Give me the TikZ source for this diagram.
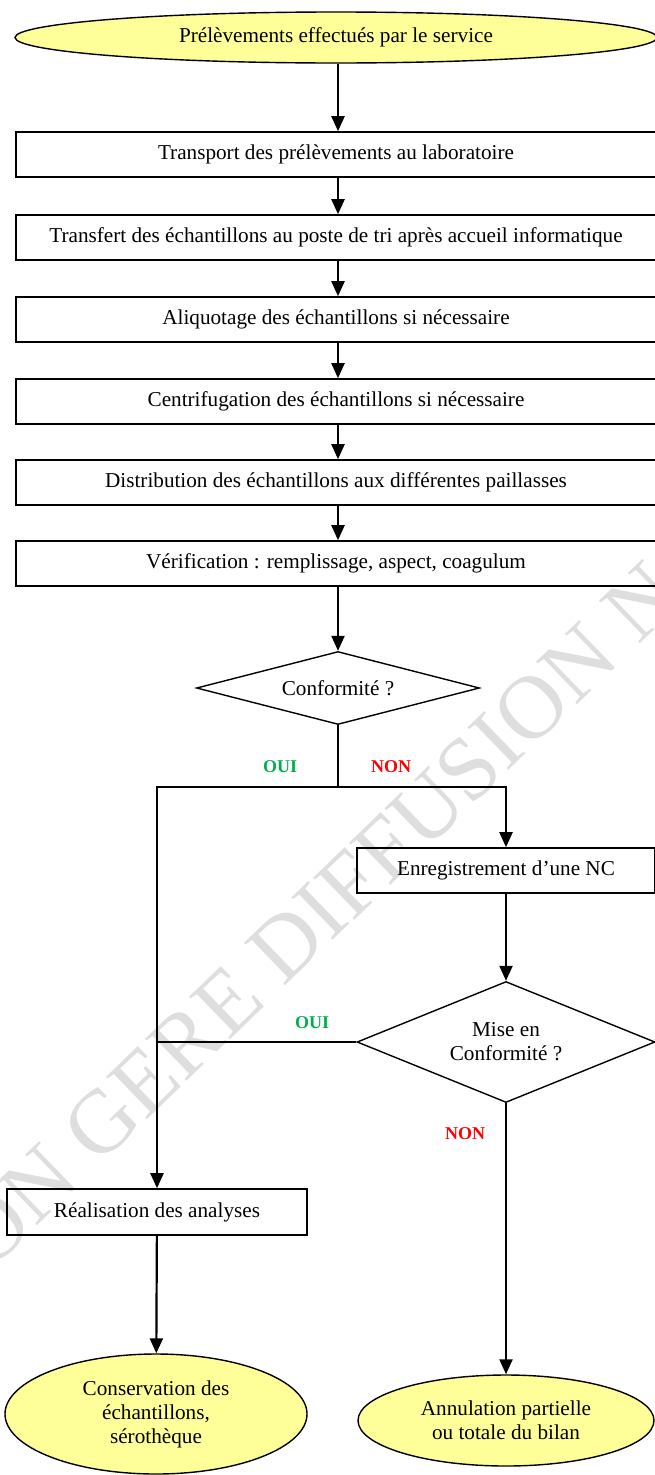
\documentclass[tikz,border=0pt]{standalone}
\usepackage{fontspec}
\setmainfont{Liberation Serif}
\usetikzlibrary{shapes.geometric,arrows.meta}
\definecolor{jaune}{RGB}{255,255,153}
\definecolor{vert}{RGB}{0,176,80}
\definecolor{rouge}{RGB}{255,0,0}
\begin{document}
\begin{tikzpicture}[x=1pt,y=-1pt,
        font=\fontsize{21.2}{24}\selectfont,
        etape/.style={draw, line width=1.6pt, inner sep=0pt, minimum height=45pt},
        ovale/.style={ellipse, draw, line width=1.4pt, fill=jaune, inner sep=0pt, align=center},
        choix/.style={diamond, draw, line width=1.4pt, inner sep=0pt, align=center},
        fleche/.style={line width=2.2pt, -{Triangle[width=13pt,length=15pt]}},
        trait/.style={line width=2.2pt},
        oui/.style={text=vert, font=\fontsize{18}{20}\selectfont\bfseries},
        non/.style={text=rouge, font=\fontsize{18}{20}\selectfont\bfseries}]
        \useasboundingbox (0,0) rectangle (654,1475);

        % filigrane
        \begin{scope}
            \clip (0,0) rectangle (654,1475);
            \node (filigrane) at (340,893) [rotate=44, text=black!13, font=\fontsize{90}{90}\selectfont] {NON GERE DIFFUSION NON};
        \end{scope}

        \node (prel) at (336,37.5) [ovale, minimum width=642pt, minimum height=51pt] {Prélèvements effectués par le service};
        \node (transp) at (336,154.5) [etape, minimum width=640pt] {Transport des prélèvements au laboratoire};
        \node (transf) at (336,237.5) [etape, minimum width=640pt] {Transfert des échantillons au poste de tri après accueil informatique};
        \node (aliq) at (336,319.5) [etape, minimum width=640pt] {Aliquotage des échantillons si nécessaire};
        \node (centri) at (336,401.5) [etape, minimum width=640pt] {Centrifugation des échantillons si nécessaire};
        \node (distri) at (336,482.5) [etape, minimum width=640pt] {Distribution des échantillons aux différentes paillasses};
        \node (verif) at (336,563.5) [etape, minimum width=640pt] {Vérification : remplissage, aspect, coagulum};
        \node (conf) at (338,688) [choix, aspect=3.9, minimum width=283pt, minimum height=73pt] {Conformité ?};

        \coordinate (split) at (338,787);
        \node (enreg) at (506,870.5) [etape, minimum width=298pt] {Enregistrement d’une NC};
        \node (mise) at (506,1042) [choix, aspect=2.5, minimum width=298pt, minimum height=121pt] {Mise en\\Conformité ?};
        \node (real) at (157,1212) [etape, minimum width=300pt, minimum height=46pt] {Réalisation des analyses};
        \node (conserv) at (156,1414) [ovale, minimum width=302pt, minimum height=120pt] {Conservation des\\échantillons,\\sérothèque};
        \node (annul) at (506,1420.5) [ovale, minimum width=296pt, minimum height=91pt] {Annulation partielle\\ou totale du bilan};

        \node (oui1) at (280,767) [oui] {OUI};
        \node (non1) at (391,767) [non] {NON};
        \node (oui2) at (312,1023) [oui] {OUI};
        \node (non2) at (465,1134) [non] {NON};

        \draw[fleche] (prel.south -| conf.north) -- (transp.north -| conf.north);
        \draw[fleche] (transp.south -| conf.north) -- (transf.north -| conf.north);
        \draw[fleche] (transf.south -| conf.north) -- (aliq.north -| conf.north);
        \draw[fleche] (aliq.south -| conf.north) -- (centri.north -| conf.north);
        \draw[fleche] (centri.south -| conf.north) -- (distri.north -| conf.north);
        \draw[fleche] (distri.south -| conf.north) -- (verif.north -| conf.north);
        \draw[fleche] (verif.south -| conf.north) -- (conf.north);
        \draw[trait] (conf.south) -- (split);
        \draw[fleche] (split) -| (enreg.north);
        \draw[fleche] (split) -| (real.north);
        \draw[fleche] (enreg) -- (mise);
        \draw[trait] (mise.west) -- (mise.west -| real.north);
        \draw[fleche] (mise.south) -- (annul.north);
        \draw[fleche] (real) -- (conserv);
\end{tikzpicture}
\end{document}
